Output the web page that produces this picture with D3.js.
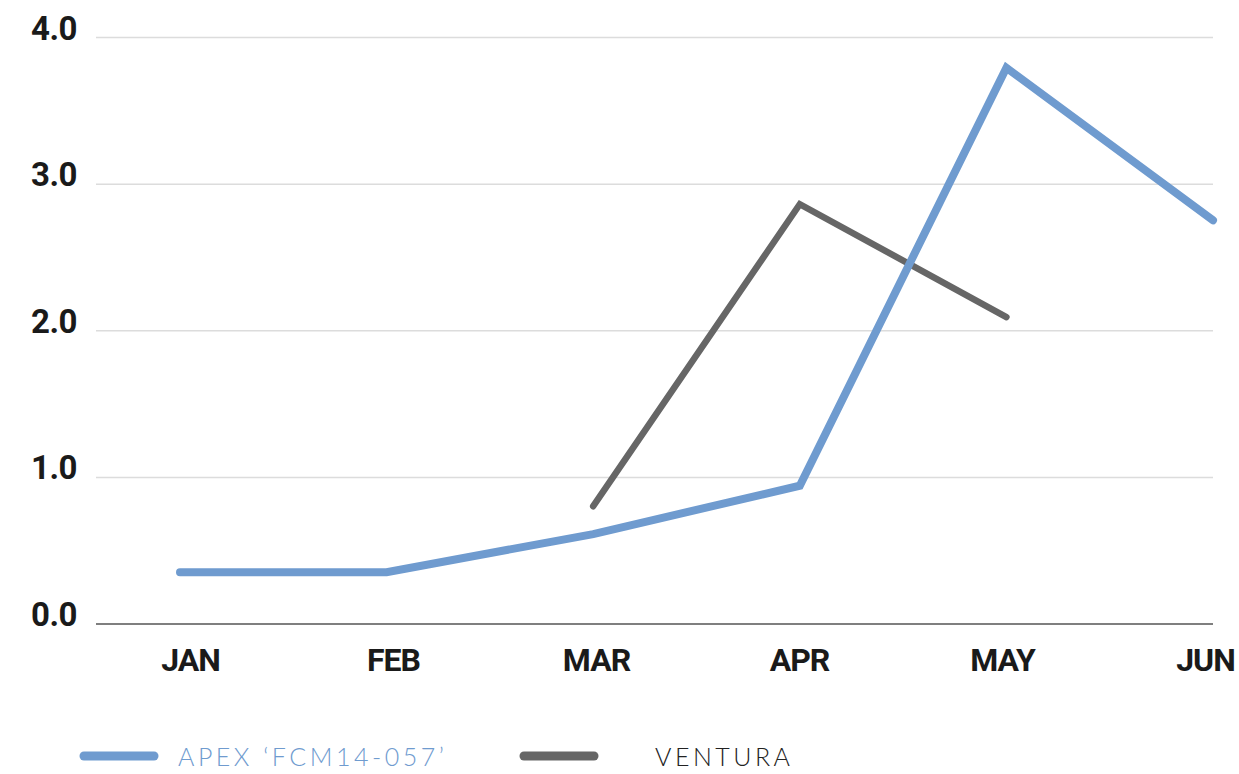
<!DOCTYPE html>
<html>
<head>
<meta charset="utf-8">
<script src="https://cdn.jsdelivr.net/npm/d3@7"></script>
<style>
  body { margin: 0; background: #fff; }
  svg { display: block; }
</style>
</head>
<body>
<svg id="chart" width="1239" height="774"></svg>
<script>
// chart values
var months = ["JAN", "FEB", "MAR", "APR", "MAY", "JUN"];
var apexValues = [0.35, 0.35, 0.61, 0.94, 3.79, 2.75];
var venturaValues = [null, null, 0.80, 2.86, 2.09, null];
var yTicks = [0, 1, 2, 3, 4];
var seriesNames = ["APEX \u2018FCM14-057\u2019", "VENTURA"];

var blue = "#6f9bcf",
    grey = "#666666";

var plotLeft = 96, plotRight = 1213, plotTop = 37, plotBottom = 623.5;

var svg = d3.select("#chart");

var x = d3.scalePoint()
    .domain(months)
    .range([180, plotRight]);

// month labels sit slightly off the data points in the original
var xLabel = d3.scalePoint()
    .domain(months)
    .range([190, 1205]);

var y = d3.scaleLinear()
    .domain([0, 4])
    .range([plotBottom, plotTop]);

// grid + y labels
var yAxis = svg.append("g")
    .attr("transform", "translate(" + plotLeft + ",0)")
    .call(d3.axisLeft(y)
        .tickValues(yTicks)
        .tickSize(-(plotRight - plotLeft))
        .tickPadding(19)
        .tickFormat(d3.format(".1f")));

yAxis.select(".domain").remove();
yAxis.selectAll(".tick line")
    .attr("stroke", function(d) { return d === 0 ? "#555" : "#dcdcdc"; })
    .attr("stroke-width", 1.5);
yAxis.selectAll(".tick text")
    .attr("dy", 0)
    .attr("y", 2)
    .style("font-family", "Roboto, 'Liberation Sans', sans-serif")
    .style("font-weight", 700)
    .style("font-size", "33px")
    .style("letter-spacing", "-0.5px")
    .style("fill", "#1a1a1a");

// month labels
var xAxis = svg.append("g")
    .attr("transform", "translate(0,671)")
    .call(d3.axisBottom(xLabel).tickSize(0).tickPadding(0));

xAxis.select(".domain").remove();
xAxis.selectAll(".tick text")
    .attr("dy", 0)
    .attr("y", 0)
    .style("font-family", "Roboto, 'Liberation Sans', sans-serif")
    .style("font-weight", 700)
    .style("font-size", "32px")
    .style("letter-spacing", "-1px")
    .style("fill", "#1a1a1a");

var line = d3.line()
    .defined(function(d) { return d != null; })
    .x(function(d, i) { return x(months[i]); })
    .y(function(d) { return y(d); });

svg.append("path")
    .datum(venturaValues)
    .attr("d", line)
    .attr("fill", "none")
    .attr("stroke", grey)
    .attr("stroke-width", 6.5)
    .attr("stroke-linecap", "round")
    .attr("stroke-linejoin", "miter");

svg.append("path")
    .datum(apexValues)
    .attr("d", line)
    .attr("fill", "none")
    .attr("stroke", blue)
    .attr("stroke-width", 8)
    .attr("stroke-linecap", "round")
    .attr("stroke-linejoin", "miter");

// legend
var legendItems = [
    { name: seriesNames[0], color: blue, text: blue, x: 80, tx: 178 },
    { name: seriesNames[1], color: grey, text: "#222", x: 520, tx: 655 }
];

var legend = svg.append("g").selectAll("g")
    .data(legendItems)
    .enter().append("g");

legend.append("line")
    .attr("x1", function(d) { return d.x + 4; })
    .attr("x2", function(d) { return d.x + 74; })
    .attr("y1", 756)
    .attr("y2", 756)
    .attr("stroke", function(d) { return d.color; })
    .attr("stroke-width", 9)
    .attr("stroke-linecap", "round");

legend.append("text")
    .attr("x", function(d) { return d.tx; })
    .attr("y", 766)
    .style("font-family", "Lato, 'Open Sans', sans-serif")
    .style("font-weight", 300)
    .style("font-size", "25px")
    .style("letter-spacing", "3.5px")
    .style("fill", function(d) { return d.text; })
    .text(function(d) { return d.name; });
</script>
</body>
</html>
